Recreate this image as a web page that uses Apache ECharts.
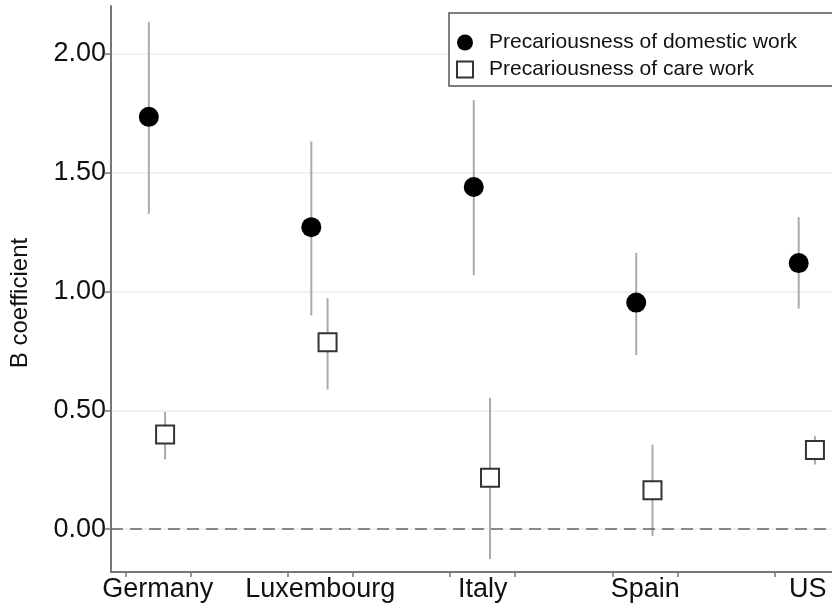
<!DOCTYPE html>
<html>
<head>
<meta charset="utf-8">
<script src="https://cdn.jsdelivr.net/npm/echarts@6/dist/echarts.min.js"></script>
<style>
  html, body { margin: 0; padding: 0; background: #fff; }
  #chart { width: 832px; height: 606px; }
</style>
</head>
<body>
<div id="chart"></div>
<script>
// ---- data ----
var countries = ['Germany', 'Luxembourg', 'Italy', 'Spain', 'US'];
var domestic   = [1.734, 1.27, 1.439, 0.953, 1.119];
var domesticLo = [1.326, 0.899, 1.068, 0.732, 0.928];
var domesticHi = [2.133, 1.630, 1.804, 1.162, 1.312];
var care   = [0.398, 0.786, 0.216, 0.164, 0.333];
var careLo = [0.293, 0.587, -0.126, -0.028, 0.272];
var careHi = [0.493, 0.971, 0.552, 0.355, 0.391];
var yTicks = [0, 0.5, 1, 1.5, 2];
var seriesNames = ['Precariousness of domestic work', 'Precariousness of care work'];

// ---- build library data ----
var offDom = -0.055, offCare = 0.045;
var domPts = [], carePts = [], bars = [], xLabelVals = [], xTickVals = [];
countries.forEach(function (c, i) {
  var p = i + 1;
  xLabelVals.push(p);
  xTickVals.push(p - 0.2);
  if (p + 0.2 < 5.15) xTickVals.push(p + 0.2);
  domPts.push([p + offDom, domestic[i]]);
  carePts.push([p + offCare, care[i]]);
  bars.push([p + offDom, domesticLo[i], domesticHi[i]]);
  bars.push([p + offCare, careLo[i], careHi[i]]);
});

var FONT = '"Liberation Sans", Arial, Helvetica, sans-serif';
var chart = echarts.init(document.getElementById('chart'), null, {renderer: 'canvas'});
chart.setOption({
  animation: false,
  backgroundColor: '#fff',
  grid: {left: 109, right: 0, top: 6, bottom: 34, containLabel: false},
  legend: {
    data: seriesNames,
    orient: 'vertical',
    left: 449, top: 13,
    padding: [19, 60, 6, 7],
    borderColor: '#555', borderWidth: 1.5, borderRadius: 0,
    backgroundColor: '#fff',
    itemWidth: 16, itemHeight: 16, itemGap: 6,
    textStyle: {fontFamily: FONT, fontSize: 21, color: '#111', lineHeight: 21, padding: [0, 0, 0, 11]}
  },
  xAxis: {
    type: 'value', min: 0.712, max: 5.15,
    axisLine: {show: true, onZero: false, lineStyle: {color: '#777', width: 2}},
    axisTick: {show: true, length: 5, customValues: xTickVals, lineStyle: {color: '#777', width: 1.5}},
    axisLabel: {
      customValues: xLabelVals, margin: 4,
      fontFamily: FONT, fontSize: 27, color: '#111',
      formatter: function (v) { return countries[Math.round(v) - 1] || ''; }
    },
    splitLine: {show: false}
  },
  yAxis: {
    type: 'value', min: -0.18, max: 2.2,
    name: 'B coefficient', nameLocation: 'middle', nameGap: 79, nameRotate: 90,
    nameTextStyle: {fontFamily: FONT, fontSize: 24, color: '#111', padding: [0, 28, 0, 0]},
    axisLine: {show: true, onZero: false, lineStyle: {color: '#777', width: 2}},
    axisTick: {show: true, length: 6, customValues: yTicks, lineStyle: {color: '#777', width: 1.5}},
    axisLabel: {
      customValues: yTicks, margin: 5,
      fontFamily: FONT, fontSize: 27, color: '#111',
      formatter: function (v) { return v.toFixed(2); }
    },
    splitLine: {show: true, lineStyle: {color: '#ececec', width: 1.5}}
  },
  series: [
    {
      type: 'custom', name: 'ci', silent: true,
      data: bars,
      encode: {x: 0, y: [1, 2]},
      renderItem: function (params, api) {
        var a = api.coord([api.value(0), api.value(1)]);
        var b = api.coord([api.value(0), api.value(2)]);
        return {type: 'line', shape: {x1: a[0], y1: a[1], x2: b[0], y2: b[1]},
                style: {stroke: '#aaaaaa', lineWidth: 2}};
      },
      markLine: {
        silent: true, symbol: 'none', label: {show: false},
        lineStyle: {type: [12, 7], color: '#666', width: 1.5},
        data: [{yAxis: 0}]
      },
      z: 2
    },
    {
      type: 'scatter', name: seriesNames[0],
      data: domPts, symbol: 'circle', symbolSize: 20,
      itemStyle: {color: '#000', opacity: 1},
      z: 3
    },
    {
      type: 'scatter', name: seriesNames[1],
      data: carePts, symbol: 'rect', symbolSize: 18,
      itemStyle: {color: '#fff', borderColor: '#333', borderWidth: 2, opacity: 1},
      z: 3
    }
  ]
});
</script>
</body>
</html>
